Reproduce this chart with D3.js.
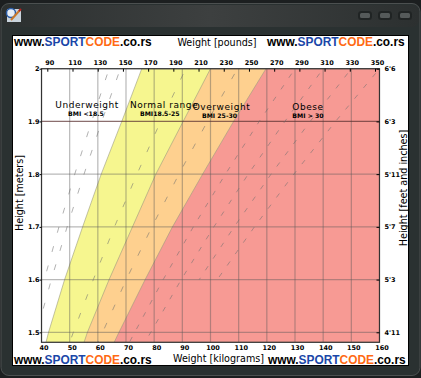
<!DOCTYPE html>
<html>
<head>
<meta charset="utf-8">
<title>Height and weight BMI chart</title>
<script src="https://d3js.org/d3.v7.min.js"></script>
<style>
  html, body { margin: 0; padding: 0; background: #1c1f20; overflow: hidden; }
  svg { display: block; }
  text { font-family: "DejaVu Sans", sans-serif; fill: #000; }
  .tick text { font-size: 6.5px; font-weight: bold; }
  .brand { font-family: "Liberation Sans", sans-serif; font-weight: bold; font-size: 11.9px; }
  .title { font-size: 9.6px; }
  .zone { font-size: 9px; letter-spacing: 0.55px; text-anchor: middle; }
  .zoneSub { font-size: 6.2px; font-weight: bold; text-anchor: middle; }
</style>
</head>
<body>
<div id="chart"></div>
<script>
var kgTicks = [40, 50, 60, 70, 80, 90, 100, 110, 120, 130, 140, 150, 160];
var lbTicks = [90, 110, 130, 150, 170, 190, 210, 230, 250, 270, 290, 310, 330, 350];
var meterTicks = [1.5, 1.6, 1.7, 1.8, 1.9, 2];
var feetLabels = ["4'11", "5'3", "5'7", "5'11", "6'3", "6'6"];

// heights the boundary weights below were read at
var heights = [2, 1.9, 1.8, 1.7, 1.6, 1.5, 1.481];

// weight (kg) of each zone boundary at those heights
var underLimit = [75.6, 68.5, 61.2, 54.6, 48.2, 42.5, 41.6];
var normalLimit = [100, 90.3, 80.6, 72.3, 64, 56.3, 55.1];
var overLimit = [119.7, 108.2, 97.2, 86.5, 76.8, 67.5, 65.8];

// weight (kg) of the dashed lines at the same heights, some stop early
var dashA = [64, 57.8, 51.8, 46.2, 41];
var dashB = [68, 61.4, 55.1, 49.1, 43.5, 38.3];
var dashC = [91.2, 82.3, 73.9, 65.9, 58.4, 51.3, 50];
var dashD = [109.6, 98.9, 88.8, 79.2, 70.1, 61.7, 60];
var dashE = [130, 117.3, 105.3, 93.9, 83.2, 73.1, 71.2];
var dashF = [140, 126.4, 113.4, 101.2, 89.6, 78.8, 76.7];
var dashG = [150, 135.4, 121.5, 108.4, 96];
var dashH = [160, 144.4, 129.6, 115.6, 102.4];

var width = 421, height = 378;
var svg = d3.select("#chart").append("svg").attr("width", width).attr("height", height);
var defs = svg.append("defs");

// window frame
var grad = defs.append("linearGradient").attr("id", "titlebar");
grad.append("stop").attr("offset", "0").attr("stop-color", "#2c3030");
grad.append("stop").attr("offset", "0.5").attr("stop-color", "#3d4040");
grad.append("stop").attr("offset", "1").attr("stop-color", "#2c3030");

svg.append("rect").attr("x", 1).attr("y", 3.5).attr("width", 419).attr("height", 372).attr("rx", 8)
    .attr("fill", "#2a3131").attr("stroke", "#4c5050");
svg.append("rect").attr("x", 2).attr("y", 5).attr("width", 417).attr("height", 22).attr("rx", 7)
    .attr("fill", "url(#titlebar)");

[365, 385, 405].forEach(function(cx) {
    svg.append("rect").attr("x", cx - 6).attr("y", 12).attr("width", 12).attr("height", 7).attr("rx", 2.5)
        .attr("fill", "#555a5a").attr("stroke", "#202424").attr("stroke-width", 2);
});

// little app icon
var icon = svg.append("g");
icon.append("rect").attr("x", 7).attr("y", 9).attr("width", 14).attr("height", 13).attr("fill", "#c9d3dc");
icon.append("circle").attr("cx", 11).attr("cy", 13).attr("r", 4.5).attr("fill", "#e8eef5").attr("stroke", "#2a5da8").attr("stroke-width", 1.5);
icon.append("line").attr("x1", 11).attr("y1", 20).attr("x2", 20).attr("y2", 10).attr("stroke", "#c8782a").attr("stroke-width", 2);
icon.append("line").attr("x1", 19).attr("y1", 11).attr("x2", 21).attr("y2", 9).attr("stroke", "#b02020").attr("stroke-width", 2);

// white panel
svg.append("rect").attr("x", 12.5).attr("y", 35.5).attr("width", 396).attr("height", 330)
    .attr("fill", "#fff").attr("stroke", "#000");

var plotLeft = 41.5, plotRight = 379.5, plotTop = 68.7, plotBottom = 342.3;
var x = d3.scaleLinear().domain([40, 160]).range([plotLeft, plotRight]);
var xLb = d3.scaleLinear().domain([90, 350]).range([47.3, 375]);
var y = d3.scaleLinear().domain([1.5, 2]).range([332.3, plotTop]);
var hMin = y.invert(plotBottom);

defs.append("clipPath").attr("id", "plot").append("rect")
    .attr("x", plotLeft).attr("y", plotTop).attr("width", plotRight - plotLeft).attr("height", plotBottom - plotTop);

var plot = svg.append("g").attr("clip-path", "url(#plot)");

function area(limit, color) {
    // everything right of the boundary, later zones paint over it
    var pts = heights.map(function(h, i) { return [x(limit[i]), y(h)]; });
    pts.push([plotRight, y(hMin)], [plotRight, y(2)]);
    plot.append("path").attr("d", d3.line()(pts) + "Z").attr("fill", color)
        .attr("stroke", "#9a9a80").attr("stroke-width", 0.6);
}
area(underLimit, "#f6f68f");
area(normalLimit, "#fed08f");
area(overLimit, "#f79a94");

// grid
plot.selectAll(".gx").data(kgTicks).enter().append("line")
    .attr("x1", function(d) { return x(d); }).attr("x2", function(d) { return x(d); })
    .attr("y1", plotTop).attr("y2", plotBottom)
    .attr("stroke", "#555").attr("stroke-opacity", 0.42).attr("stroke-width", 1.2);
plot.selectAll(".gy").data(meterTicks).enter().append("line")
    .attr("x1", plotLeft).attr("x2", plotRight)
    .attr("y1", function(d) { return y(d); }).attr("y2", function(d) { return y(d); })
    .attr("stroke", function(d) { return d === 1.9 ? "#5a3030" : "#555"; })
    .attr("stroke-opacity", function(d) { return d === 1.9 ? 0.7 : 0.42; })
    .attr("stroke-width", 1.2);

// dashed lines
var dashLine = d3.line()
    .x(function(d) { return x(d); })
    .y(function(d, i) { return y(heights[i]); });
[dashA, dashB, dashC, dashD, dashE, dashF, dashG, dashH].forEach(function(s, i) {
    plot.append("path").datum(s).attr("d", dashLine)
        .attr("fill", "none").attr("stroke", "#6e6e6e").attr("stroke-opacity", 0.6)
        .attr("stroke-width", 0.9)
        .attr("stroke-dasharray", i >= 4 ? "5 9" : "6 14")
        .attr("stroke-dashoffset", -6);
});

// frame
svg.append("rect").attr("x", plotLeft).attr("y", plotTop).attr("width", plotRight - plotLeft).attr("height", plotBottom - plotTop)
    .attr("fill", "none").attr("stroke", "#333").attr("stroke-width", 1.2);

// axes
var axisTop = svg.append("g").attr("transform", "translate(0," + plotTop + ")")
    .call(d3.axisTop(xLb).tickValues(lbTicks).tickSize(-3).tickPadding(4).tickFormat(d3.format("d")));
axisTop.select(".domain").remove();
axisTop.selectAll("text").attr("dx", 2);

var axisBottom = svg.append("g").attr("transform", "translate(0," + plotBottom + ")")
    .call(d3.axisBottom(x).tickValues(kgTicks).tickSize(0).tickPadding(3).tickFormat(d3.format("d")));
axisBottom.select(".domain").remove();
axisBottom.selectAll("text").attr("dx", 2);

var axisLeft = svg.append("g").attr("transform", "translate(" + plotLeft + ",0)")
    .call(d3.axisLeft(y).tickValues(meterTicks).tickSize(2).tickPadding(0).tickFormat(function(d) { return d; }));
axisLeft.select(".domain").remove();

var axisRight = svg.append("g").attr("transform", "translate(" + plotRight + ",0)")
    .call(d3.axisRight(y).tickValues(meterTicks).tickSize(-3).tickPadding(5)
        .tickFormat(function(d, i) { return feetLabels[i]; }));
axisRight.select(".domain").remove();

// titles
svg.append("text").attr("class", "title").attr("x", 217).attr("y", 45.5).attr("text-anchor", "middle").text("Weight [pounds]");
svg.append("text").attr("class", "title").attr("x", 218.5).attr("y", 362).attr("text-anchor", "middle").text("Weight [kilograms]");
svg.append("text").attr("class", "title").attr("transform", "translate(22.5,193) rotate(-90)").attr("text-anchor", "middle").text("Height [meters]");
svg.append("text").attr("class", "title").attr("transform", "translate(407,188) rotate(-90)").attr("text-anchor", "middle").text("Height [feet and inches]");

// zone names
var zoneNames = ["Underweight", "Normal range", "Overweight", "Obese"];
var zoneNotes = ["BMI <18.5", "BMI18.5-25", "BMI 25-30", "BMI > 30"];
var zoneKg = [56.2, 83.5, 103.9, 134.6];
var zoneNoteKg = [55.8, 82, 103.2, 134.6];
var zoneM = [1.925, 1.925, 1.922, 1.922];
zoneNames.forEach(function(name, i) {
    svg.append("text").attr("class", "zone").attr("x", x(zoneKg[i])).attr("y", y(zoneM[i])).text(name);
    svg.append("text").attr("class", "zoneSub").attr("x", x(zoneNoteKg[i])).attr("y", y(zoneM[i]) + 8).text(zoneNotes[i]);
});

// brand stamps
function brand(px, py) {
    var t = svg.append("text").attr("class", "brand").attr("x", px).attr("y", py);
    t.append("tspan").text("www.");
    t.append("tspan").attr("fill", "#1a47a8").text("SPORT");
    t.append("tspan").attr("fill", "#ff6a13").text("CODE");
    t.append("tspan").text(".co.rs");
}
brand(14, 46);
brand(267, 46);
brand(14, 364);
brand(268, 364);
</script>
</body>
</html>
